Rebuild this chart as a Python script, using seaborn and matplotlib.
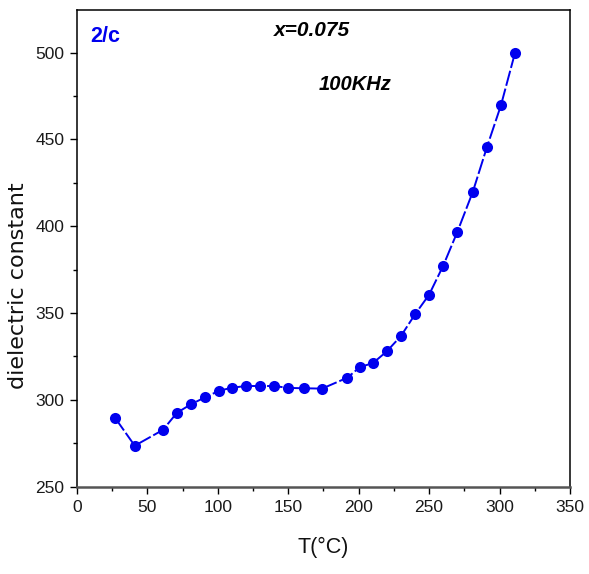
import matplotlib
matplotlib.use("Agg")
import matplotlib.pyplot as plt
from matplotlib import font_manager
from matplotlib.ticker import MultipleLocator
import seaborn as sns
import pandas as pd

# Temperature (°C) and dielectric constant measured at 100 kHz, x = 0.075
temperature = [27, 41, 61, 71, 81, 91, 101, 110, 120, 130, 140, 150, 161, 174,
               192, 201, 210, 220, 230, 240, 250, 260, 270, 281, 291, 301, 311]
dielectric = [289.7, 273.6, 282.7, 292.6, 297.5, 301.5, 305.3, 307.0, 308.0,
              308.0, 308.0, 306.9, 306.7, 306.5, 312.8, 319.0, 321.1, 328.0,
              336.8, 349.3, 360.6, 377.3, 396.7, 419.8, 445.5, 469.7, 500.0]

x_ticks = [0, 50, 100, 150, 200, 250, 300, 350]
y_ticks = [250, 300, 350, 400, 450, 500]

sns.set_theme(style="ticks")
plt.rcParams["font.family"] = ["Liberation Sans", "DejaVu Sans"]

installed = {f.name for f in font_manager.fontManager.ttflist}
narrow = "Liberation Sans Narrow" if "Liberation Sans Narrow" in installed else "Liberation Sans"

df = pd.DataFrame({"T": temperature, "eps": dielectric})

fig = plt.figure(figsize=(5.89, 5.74), dpi=100)
ax = fig.add_axes([0.1307, 0.1521, 0.837, 0.8305])

sns.lineplot(data=df, x="T", y="eps", ax=ax, sort=False, color="#0000ee",
             marker="o", markersize=8, markeredgewidth=0, linewidth=1.4)
ax.lines[0].set_linestyle((0, (8, 1.5)))

ax.set_xlim(0, 350)
ax.set_ylim(250, 524.6)
ax.set_xticks(x_ticks)
ax.set_yticks(y_ticks)
ax.xaxis.set_minor_locator(MultipleLocator(25))
ax.yaxis.set_minor_locator(MultipleLocator(25))
ax.tick_params(axis="both", which="major", direction="out", length=5, width=1,
               colors="black", labelcolor="#1a1a1a")
ax.tick_params(axis="x", which="major", pad=4.5)
ax.tick_params(axis="y", which="major", pad=4)
ax.tick_params(axis="both", which="minor", direction="out", length=3, width=1,
               colors="black")
for lbl in ax.get_xticklabels() + ax.get_yticklabels():
    lbl.set_fontfamily([narrow, "DejaVu Sans"])
    lbl.set_fontsize(12.5)

for side in ["left", "top", "right"]:
    ax.spines[side].set_color("black")
    ax.spines[side].set_linewidth(1.1)
ax.spines["bottom"].set_color("#555555")
ax.spines["bottom"].set_linewidth(1.8)

ax.set_xlabel("T(°C)", fontsize=15.5, color="#111111")
ax.xaxis.set_label_coords(0.5, -0.105)
ax.set_ylabel("dielectric constant", fontsize=16, color="#111111",
              family=["DejaVu Sans"])
ax.yaxis.set_label_coords(-0.100, 0.421)

ax.text(0.027, 0.945, "2/c", transform=ax.transAxes, color="#0000ee",
        fontsize=15.5, fontweight="bold", va="center", ha="left",
        family=[narrow, "DejaVu Sans"])
ax.text(0.476, 0.958, "x=0.075", transform=ax.transAxes, color="black",
        fontsize=15, fontweight="bold", style="italic", va="center", ha="center")
ax.text(0.565, 0.843, "100KHz", transform=ax.transAxes, color="black",
        fontsize=14.5, fontweight="bold", style="italic", va="center", ha="center")

fig.savefig("out.png", dpi=100)
